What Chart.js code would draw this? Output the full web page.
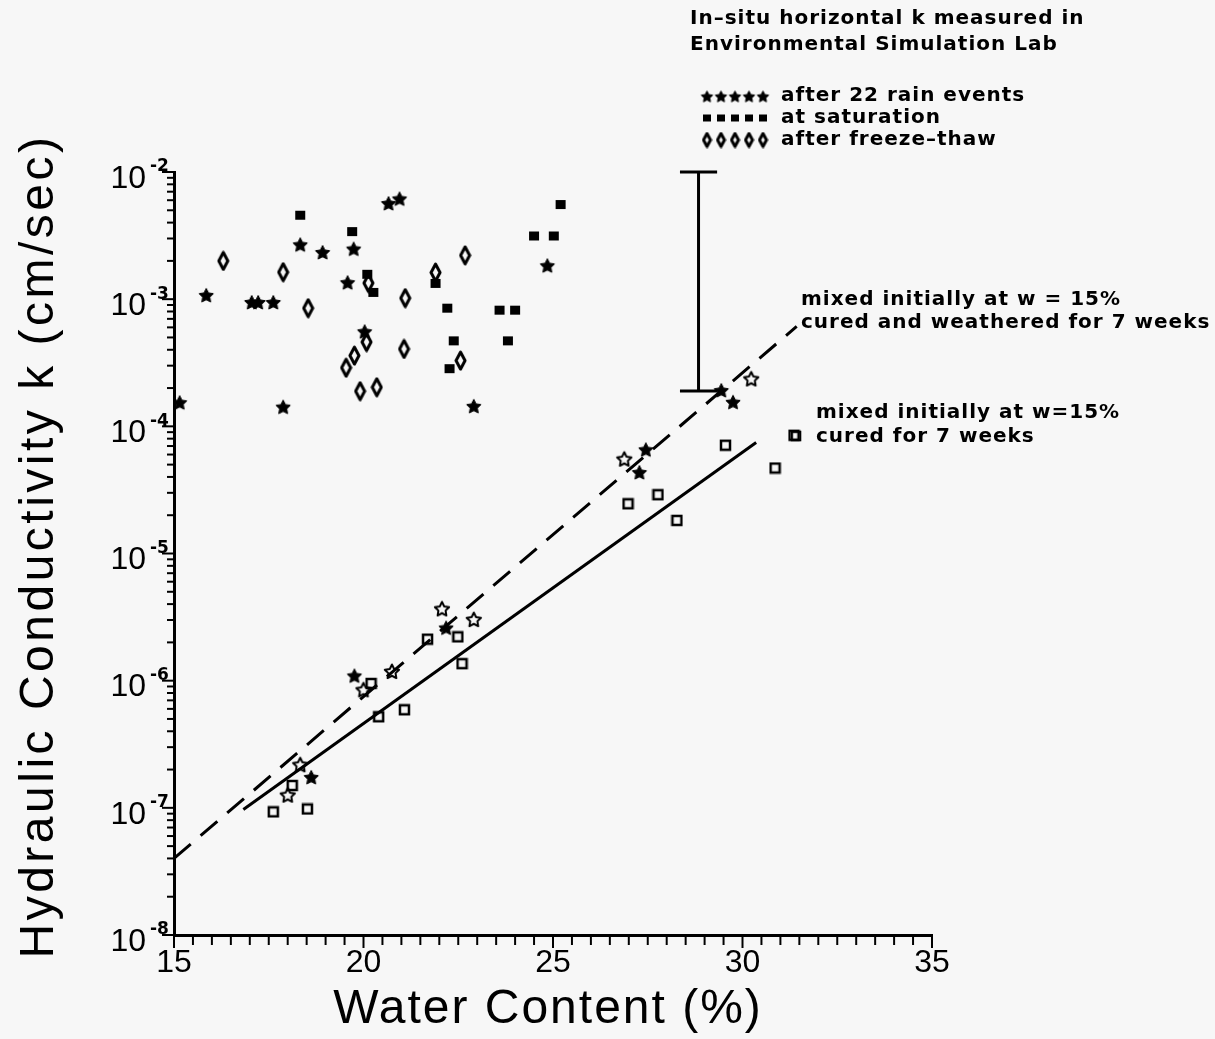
<!DOCTYPE html>
<html>
<head>
<meta charset="utf-8">
<title>Hydraulic Conductivity vs Water Content</title>
<script src="https://cdn.jsdelivr.net/npm/chart.js@4.4.1/dist/chart.umd.min.js"></script>
<style>
  html, body { margin: 0; padding: 0; background: #f7f7f7; }
  #wrap { width: 1215px; height: 1039px; position: relative; }
</style>
</head>
<body>
<div id="wrap"><canvas id="chart"></canvas></div>
<script>
// in-situ horizontal k, Environmental Simulation Lab
const rainX = [15.15, 15.85, 17.05, 17.22, 17.62, 17.88, 18.33, 18.92, 19.58, 19.74, 20.03, 20.66, 20.95, 22.91, 24.85];
const rainK = [1.55e-4, 1.08e-3, 9.5e-4, 9.5e-4, 9.5e-4, 1.43e-4, 2.7e-3, 2.35e-3, 1.36e-3, 2.5e-3, 5.6e-4, 5.7e-3, 6.2e-3, 1.45e-4, 1.85e-3];

const satX = [18.33, 19.70, 20.10, 20.26, 21.90, 22.21, 22.38, 22.27, 25.2, 24.5, 25.02, 23.59, 24.0, 23.81];
const satK = [4.57e-3, 3.4e-3, 1.57e-3, 1.13e-3, 1.33e-3, 8.5e-4, 4.7e-4, 2.84e-4, 5.55e-3, 3.14e-3, 3.14e-3, 8.2e-4, 8.2e-4, 4.7e-4];

const freezeX = [16.30, 17.88, 18.54, 20.13, 20.08, 19.76, 19.54, 19.91, 20.35, 21.10, 21.07, 21.90, 22.68, 22.56];
const freezeK = [2.0e-3, 1.63e-3, 8.5e-4, 1.34e-3, 4.6e-4, 3.6e-4, 2.89e-4, 1.89e-4, 2.03e-4, 1.02e-3, 4.06e-4, 1.62e-3, 2.21e-3, 3.29e-4];

// lab samples: cured and weathered 7 weeks (stars), cured 7 weeks (squares)
const weatheredFilledX = [22.18, 19.76, 18.62, 27.45, 27.28, 29.44, 29.75];
const weatheredFilledK = [2.62e-6, 1.1e-6, 1.75e-7, 6.6e-5, 4.37e-5, 1.93e-4, 1.56e-4];
const weatheredOpenX = [22.07, 22.91, 20.75, 20.0, 18.33, 18.0, 26.88, 30.23];
const weatheredOpenK = [3.7e-6, 3.05e-6, 1.19e-6, 8.55e-7, 2.2e-7, 1.27e-7, 5.57e-5, 2.38e-4];

const curedX = [21.69, 22.49, 22.60, 20.2, 21.08, 20.40, 18.12, 17.62, 18.52, 26.98, 27.77, 28.27, 29.55, 30.86, 31.36];
const curedK = [2.12e-6, 2.21e-6, 1.36e-6, 9.5e-7, 5.9e-7, 5.2e-7, 1.5e-7, 9.3e-8, 9.8e-8, 2.46e-5, 2.9e-5, 1.82e-5, 7.1e-5, 4.7e-5, 8.5e-5];

// fitted lines
const weatheredFitX = [15, 31.43];
const weatheredFitK = [4.0e-8, 6.1e-4];
const curedFitX = [16.83, 30.36];
const curedFitK = [9.7e-8, 7.45e-5];

// range bar of the in-situ measurements
const rangeX = [28.84, 28.84];
const rangeK = [1e-2, 1.9e-4];
const capX = [28.35, 29.33];

const xTickLabels = [15, 20, 25, 30, 35];
const yExponents = [-8, -7, -6, -5, -4, -3, -2];

function pts(xs, ys) {
  return xs.map((v, i) => ({ x: v, y: ys[i] }));
}

function marker(kind, w, h) {
  const c = document.createElement('canvas');
  c.width = w; c.height = h;
  const g = c.getContext('2d');
  g.fillStyle = '#000';
  g.strokeStyle = '#000';
  const cx = w / 2, cy = h / 2;
  if (kind === 'star' || kind === 'openStar') {
    const R = Math.min(w, h) / 2 - 1.5, r = R * 0.5;
    g.beginPath();
    for (let i = 0; i < 10; i++) {
      const a = -Math.PI / 2 + i * Math.PI / 5;
      const rr = i % 2 ? r : R;
      g.lineTo(cx + rr * Math.cos(a), cy + 1 + rr * Math.sin(a));
    }
    g.closePath();
    if (kind === 'star') { g.fill(); g.lineWidth = 1; g.stroke(); }
    else { g.lineWidth = 2; g.lineJoin = 'round'; g.stroke(); }
  } else if (kind === 'square') {
    g.fillRect(1, 1, w - 2, h - 2);
  } else if (kind === 'openSquare') {
    g.lineWidth = 2.5;
    g.strokeRect(2, 2, w - 4, h - 4);
  } else if (kind === 'diamond') {
    g.lineWidth = 3;
    g.lineJoin = 'round';
    g.beginPath();
    g.moveTo(cx, 2); g.lineTo(w - 2, cy); g.lineTo(cx, h - 2); g.lineTo(2, cy);
    g.closePath();
    g.stroke();
  }
  return c;
}

const starImg = marker('star', 18, 18);
const openStarImg = marker('openStar', 18, 18);
const squareImg = marker('square', 12, 11);
const openSquareImg = marker('openSquare', 13, 13);
const diamondImg = marker('diamond', 13, 21);

const legStar = marker('star', 15, 15);
const legSquare = marker('square', 10, 9);
const legDiamond = marker('diamond', 11, 17);

const decor = {
  id: 'decor',
  afterDraw(chart) {
    const { ctx, scales: { x, y } } = chart;
    const left = x.left, bottom = y.bottom;
    ctx.save();
    ctx.strokeStyle = '#000';
    ctx.fillStyle = '#000';
    ctx.lineWidth = 2;

    // x ticks every 0.5 %
    for (let v = 15; v <= 35.001; v += 0.5) {
      const px = x.getPixelForValue(v);
      const len = Math.abs(v % 5) < 0.01 ? 13 : 10;
      ctx.beginPath();
      ctx.moveTo(px, bottom);
      ctx.lineTo(px, bottom + len);
      ctx.stroke();
    }
    // y log ticks
    yExponents.forEach((e, i) => {
      const top = i === yExponents.length - 1 ? 1 : 9;
      for (let m = 1; m <= top; m++) {
        const py = y.getPixelForValue(m * Math.pow(10, e));
        const len = m === 1 ? 12 : 7;
        ctx.beginPath();
        ctx.moveTo(left - len, py);
        ctx.lineTo(left, py);
        ctx.stroke();
      }
    });

    // tick labels
    ctx.textBaseline = 'middle';
    ctx.font = '32px "Liberation Sans", Arial, sans-serif';
    ctx.textAlign = 'center';
    xTickLabels.forEach(v => {
      ctx.fillText(String(v), x.getPixelForValue(v), bottom + 28);
    });
    yExponents.forEach(e => {
      const py = y.getPixelForValue(Math.pow(10, e));
      ctx.font = '32px "Liberation Sans", Arial, sans-serif';
      ctx.textAlign = 'right';
      ctx.fillText('10', 146, py + 7);
      ctx.font = 'bold 17px "DejaVu Sans", sans-serif';
      ctx.textAlign = 'left';
      ctx.fillText('-' + Math.abs(e), 150, py - 5);
    });

    // axis titles
    ctx.font = '48px "Liberation Sans", Arial, sans-serif';
    ctx.textAlign = 'center';
    ctx.letterSpacing = '2px';
    ctx.fillText('Water Content (%)', 548, 1010);
    ctx.save();
    ctx.translate(40, 546);
    ctx.rotate(-Math.PI / 2);
    ctx.letterSpacing = '3.5px';
    ctx.fillText('Hydraulic Conductivity k (cm/sec)', 0, 0);
    ctx.restore();

    // annotations
    ctx.font = 'bold 20px "DejaVu Sans", sans-serif';
    ctx.letterSpacing = '1px';
    ctx.textAlign = 'left';
    ctx.fillText('In\u2013situ horizontal k measured in', 690, 19);
    ctx.fillText('Environmental Simulation Lab', 690, 45);

    const legend = [
      [legStar, 'after 22 rain events', 96],
      [legSquare, 'at saturation', 118],
      [legDiamond, 'after freeze\u2013thaw', 140]
    ];
    legend.forEach(([img, label, ly]) => {
      for (let k = 0; k < 5; k++) {
        const cx = 707 + k * 14;
        ctx.drawImage(img, cx - img.width / 2, ly - img.height / 2);
      }
      ctx.fillText(label, 781, ly);
    });

    ctx.fillText('mixed initially at w = 15%', 801, 300);
    ctx.fillText('cured and weathered for 7 weeks', 801, 323);
    ctx.fillText('mixed initially at w=15%', 816, 413);
    ctx.fillText('cured for 7 weeks', 816, 437);
    ctx.drawImage(openSquareImg, 796 - 6, 436 - 6, 12, 12);
    ctx.restore();
  }
};

const lineStyle = { type: 'line', showLine: true, pointRadius: 0, borderColor: '#000', borderWidth: 3, fill: false, clip: false };

new Chart(document.getElementById('chart'), {
  type: 'scatter',
  data: {
    datasets: [
      { label: 'after 22 rain events', data: pts(rainX, rainK), pointStyle: starImg },
      { label: 'at saturation', data: pts(satX, satK), pointStyle: squareImg },
      { label: 'after freeze-thaw', data: pts(freezeX, freezeK), pointStyle: diamondImg },
      { label: 'cured and weathered', data: pts(weatheredFilledX, weatheredFilledK), pointStyle: starImg },
      { label: 'cured and weathered (open)', data: pts(weatheredOpenX, weatheredOpenK), pointStyle: openStarImg },
      { label: 'cured for 7 weeks', data: pts(curedX, curedK), pointStyle: openSquareImg },
      Object.assign({ label: 'fit weathered', data: pts(weatheredFitX, weatheredFitK), borderDash: [22, 13] }, lineStyle),
      Object.assign({ label: 'fit cured', data: pts(curedFitX, curedFitK) }, lineStyle),
      Object.assign({ label: 'in-situ range', data: pts(rangeX, rangeK) }, lineStyle),
      Object.assign({ label: 'cap top', data: pts(capX, [rangeK[0], rangeK[0]]) }, lineStyle),
      Object.assign({ label: 'cap bottom', data: pts(capX, [rangeK[1], rangeK[1]]) }, lineStyle)
    ]
  },
  options: {
    responsive: true,
    maintainAspectRatio: false,
    animation: false,
    layout: { padding: { top: 172, right: 283, left: 0, bottom: 0 } },
    plugins: { legend: { display: false }, tooltip: { enabled: false } },
    scales: {
      x: {
        type: 'linear', min: 15, max: 35,
        grid: { display: false },
        border: { display: true, color: '#000', width: 3 },
        ticks: { display: false },
        afterFit: s => { s.height = 104; }
      },
      y: {
        type: 'logarithmic', min: 1e-8, max: 1e-2,
        grid: { display: false },
        border: { display: true, color: '#000', width: 3 },
        ticks: { display: false },
        afterFit: s => { s.width = 174; }
      }
    }
  },
  plugins: [decor]
});
</script>
</body>
</html>
